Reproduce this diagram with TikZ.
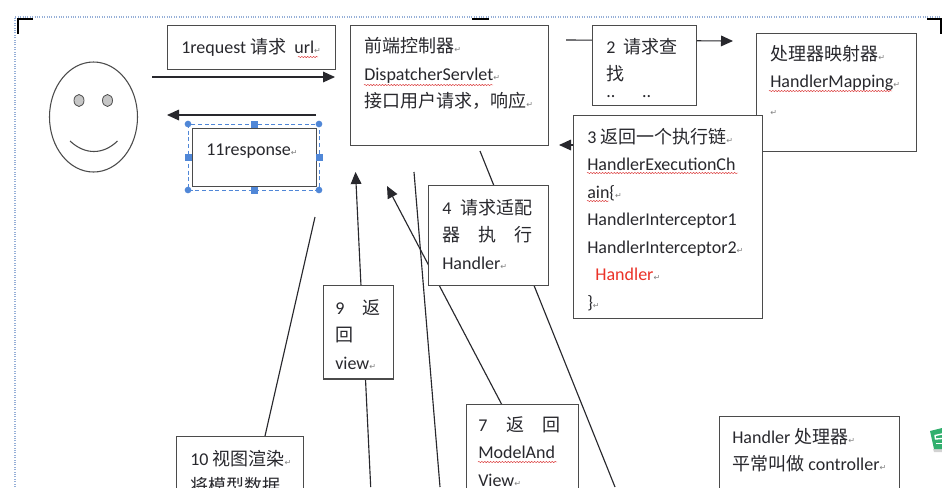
\documentclass[tikz,border=0pt]{standalone}
\usepackage{fontspec}
\setmainfont{Carlito}
\newfontfamily\cjkfont{Noto Sans CJK SC}
\newfontfamily\markfont{DejaVu Sans}
\usetikzlibrary{arrows.meta,positioning,calc,backgrounds,decorations.pathmorphing}
\definecolor{ink}{RGB}{40,40,45}
\definecolor{edge}{RGB}{75,75,75}
\definecolor{handle}{RGB}{80,135,215}
\definecolor{frame}{RGB}{150,175,215}
\definecolor{chk}{RGB}{220,60,60}
\definecolor{logo}{RGB}{50,175,110}
\definecolor{hot}{RGB}{235,50,40}
\newcommand{\zh}[1]{{\cjkfont #1}}
\newcommand{\ret}{{\markfont\color{gray}\fontsize{6}{6}\selectfont ↵}}
\newcommand{\spread}[2]{\makebox[#1][s]{#2}}
\tikzset{
  >={Stealth[length=9pt,width=8pt,inset=0pt]},
  box/.style={draw=edge,fill=white,line width=0.95pt,anchor=north west,inner sep=0pt,
    minimum width=#1*0.75pt},
  box/.default=100,
  txt/.style={anchor=north west,inner sep=0pt,align=left,text=ink,font=\fontsize{13.5}{20.6}\selectfont},
  flow/.style={->,line width=0.85pt,draw=ink},
  plain/.style={line width=0.85pt,draw=ink},
  cut/.style={line width=1.8pt,draw=black},
  squig/.style={chk,line width=0.35pt,decorate,decoration={snake,amplitude=0.5pt,segment length=2.2pt}},
}
\begin{document}
\begin{tikzpicture}[x=0.75pt,y=-0.75pt]
  \clip (0,0) rectangle (942,487);
  % page marks
  \draw[frame,densely dotted,line width=0.8pt] (15,487) -- (15,17) -- (942,17);
  \draw[cut] (33,19) -- (18,19) -- (18,34);
  \draw[cut] (472,19) -- (489,19);
  \draw[cut] (927,19) -- (941,19) -- (941,34);
  % person
  \draw[edge,line width=0.8pt] (93.5,117) ellipse (44 and 55);
  \draw[edge,fill=gray!45,line width=0.6pt] (79,100.5) ellipse (5 and 6);
  \draw[edge,fill=gray!45,line width=0.6pt] (107.5,100.5) ellipse (5 and 6);
  \draw[edge,line width=0.8pt] (70,141) .. controls (85,155) and (103,155) .. (117.5,141);
  % boxes
  \node[box=168,minimum height=33pt] (req) at (167,25) {};
  \node[txt] (reqt) at ([shift={(14,13)}]req.north west) {1request \zh{请求}\ \ url\ret};
  \node[box=198,minimum height=90pt] (ctrl) at (350,25) {};
  \node[txt] (ctrlt) at ([shift={(14,12.5)}]ctrl.north west) {\zh{前端控制器}\ret\\DispatcherServlet\ret\\\zh{接口用户请求，响应}\ret};
  \node[box=160,minimum height=88.5pt] (map) at (756,33) {};
  \node[txt] (mapt) at ([shift={(14,12)}]map.north west) {\zh{处理器映射器}\ret\\HandlerMapping\ret\\\ret};
  \node[box=104,minimum height=60pt] (look) at (592,25) {};
  \node[txt] (lookt) at ([shift={(14,13)}]look.north west) {2\ \ \zh{请求查}\\\zh{找}};
  \node[txt] (lookd) at ([shift={(14,70)}]look.north west) {..\hspace{20pt}..};
  \node[box=189,minimum height=152pt] (chain) at (573,115) {};
  \node[txt] (chaint) at ([shift={(14,13)}]chain.north west) {3 \zh{返回一个执行链}\ret\\HandlerExecutionCh\\ain\{\ret\\HandlerInterceptor1\\HandlerInterceptor2\ret\\\ \ \textcolor{hot}{Handler}\ret\\\}\ret};
  \node[box=124,minimum height=43.5pt] (resp) at (192,128) {};
  \node[txt] (respt) at ([shift={(14,16)}]resp.north west) {11response\ret};
  \node[box=120,minimum height=75pt] (adapt) at (428,185) {};
  \node[txt] (adaptt) at ([shift={(14,14)}]adapt.north west) {\spread{68pt}{4\hfil\zh{请求适配}}\\\spread{68pt}{\zh{器}\hfil\zh{执}\hfil\zh{行}}\\Handler\ret};
  \node[box=70,minimum height=70pt] (back) at (323,285) {};
  \node[txt] (backt) at ([shift={(12,14)}]back.north west) {\spread{34pt}{9\hfil\zh{返}}\\\zh{回}\\view\ret};
  \node[box=112,minimum height=80pt] (model) at (466,404) {};
  \node[txt] (modelt) at ([shift={(12,12)}]model.north west) {\spread{62pt}{7\hfil\zh{返}\hfil\zh{回}}\\ModelAnd\\View\ret};
  \node[box=127,minimum height=60pt] (render) at (176,436) {};
  \node[txt] (rendert) at ([shift={(14,14)}]render.north west) {10 \zh{视图渲染}\ret\\\zh{将模型数据}};
  \node[box=180,minimum height=60pt] (hand) at (719,416) {};
  \node[txt] (handt) at ([shift={(13,12)}]hand.north west) {Handler \zh{处理器}\ret\\\zh{平常叫做} controller\ret};
  % spelling marks
  \foreach \a/\b/\y in {298/318/57,364/493/85,769/892/91,587/738/173,587/609/201,478/557/462}
    \draw[squig] (\a,\y) -- (\b,\y);
  % free ends
  \coordinate (a1) at (152,77);  \coordinate (a2) at (335,77);
  \coordinate (b1) at (316,115); \coordinate (b2) at (167,115);
  \coordinate (c1) at (566,40);  \coordinate (c2) at (733,41);
  \coordinate (d1) at (700,145); \coordinate (d2) at (559,145);
  \coordinate (e1) at (480,151); \coordinate (e2) at (615,487);
  \coordinate (f1) at (414,172); \coordinate (f2) at (440,487);
  \coordinate (g1) at (501.5,404); \coordinate (g2) at (387,186);
  \coordinate (h1) at (370.7,487); \coordinate (h2) at (355.5,172);
  \coordinate (i1) at (315,217); \coordinate (i2) at (265,436);
  \begin{scope}[on background layer]
    \fill[white] (0,0) rectangle (942,487);
    \draw[flow] (a1) -- (a2);
    \draw[flow] (b1) -- (b2);
    \draw[flow] (c1) -- (c2);
    \draw[flow] (d1) -- (d2);
    \draw[plain] (e1) -- (e2);
    \draw[plain] (f1) -- (f2);
    \draw[flow] (g1) -- (g2);
    \draw[flow] (h1) -- (h2);
    \draw[plain] (i1) -- (i2);
  \end{scope}
  % selection of the response box
  \draw[handle,densely dashed,line width=0.6pt] (188,124) rectangle (319,190);
  \foreach \x/\y in {188/124,319/124,188/190,319/190}
    \fill[handle] (\x,\y) circle (2.5pt);
  \foreach \x/\y in {254/124,254/190,188/157,319/157}
    \fill[handle] (\x-3.5,\y-3.5) rectangle (\x+3.5,\y+3.5);
  % icon at the margin
  \fill[gray!35] (933,449) -- (942,449) -- (942,452) -- (934,452) -- cycle;
  \fill[logo] (930,431) -- (942,428) -- (942,449) -- (934,449) -- cycle;
  \draw[white,line width=1pt] (942,434) -- (935,435.5) -- (935.5,439) -- (942,438.5);
  \draw[white,line width=1pt] (936,443.5) -- (942,443.5);
\end{tikzpicture}
\end{document}
